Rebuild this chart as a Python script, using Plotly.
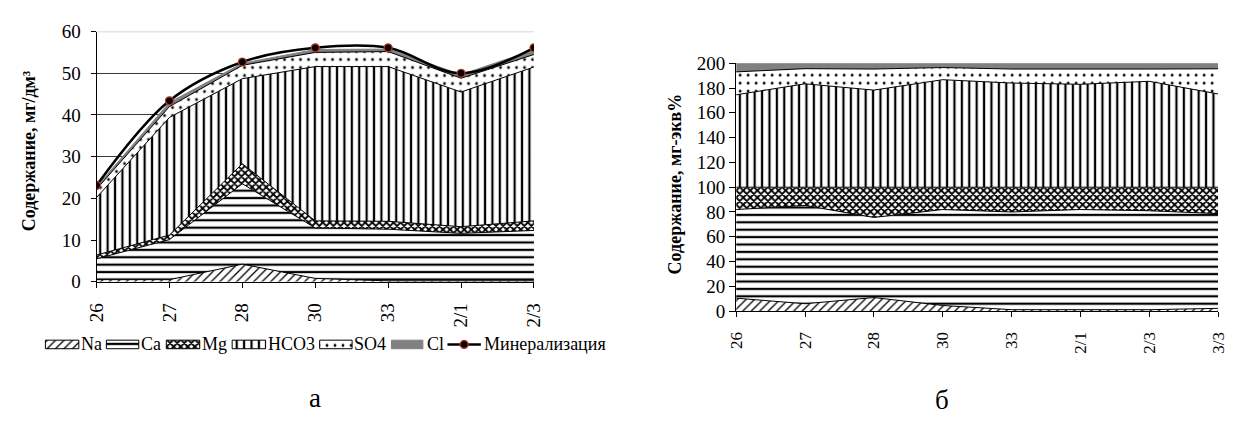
import plotly.graph_objects as go

# --- а: concentration, mg/dm3 -------------------------------------------
samples_a = ["26", "27", "28", "30", "33", "2/1", "2/3"]
na_a   = [0.5, 0.5, 4.2, 0.8, 0.2, 0.2, 0.2]
ca_a   = [5.0, 9.6, 19.3, 12.1, 12.4, 11.4, 12.1]
mg_a   = [0.9, 1.1, 4.8, 1.7, 1.9, 1.6, 2.3]
hco3_a = [13.8, 28.2, 20.4, 37.0, 37.1, 32.3, 36.9]
so4_a  = [2.0, 2.6, 3.2, 3.4, 3.6, 3.3, 3.0]
cl_a   = [0.6, 1.0, 0.5, 0.7, 0.6, 0.9, 1.1]
mineral_a = [23.1, 43.4, 52.7, 56.1, 56.1, 50.0, 56.1]

# --- б: equivalent percent, mg-eq% ---------------------------------------
samples_b = ["26", "27", "28", "30", "33", "2/1", "2/3", "3/3"]
na_b   = [10.5, 6.0, 11.0, 4.6, 1.2, 1.2, 1.2, 2.3]
ca_b   = [71.5, 79.3, 64.6, 77.4, 78.8, 80.8, 79.8, 76.4]
mg_b   = [18.0, 14.7, 24.4, 18.0, 20.0, 18.0, 19.0, 21.3]
hco3_b = [74.5, 83.4, 78.3, 86.7, 84.0, 83.0, 85.4, 75.2]
so4_b  = [18.5, 12.2, 17.0, 9.8, 11.3, 12.1, 9.9, 20.3]
cl_b   = [7.0, 4.4, 4.7, 3.5, 4.7, 4.9, 4.7, 4.5]

ion_names = ["Na", "Ca", "Mg", "HCO3", "SO4", "Cl"]
series_a = [na_a, ca_a, mg_a, hco3_a, so4_a, cl_a]
series_b = [na_b, ca_b, mg_b, hco3_b, so4_b, cl_b]
mineral_name = "Минерализация"

FONT = "Liberation Serif, Times New Roman, serif"
W, H = 1235, 421
CL_GREY = "#808080"
MARKER_EDGE = "#c0392b"

patterns = {
    "Na":   dict(shape="/", size=6, solidity=0.22),
    "Ca":   dict(shape="-", size=7.4, solidity=0.3),
    "Mg":   dict(shape="x", size=5, solidity=0.6),
    "HCO3": dict(shape="|", size=7.4, solidity=0.3),
    "SO4":  dict(shape=".", size=8, solidity=0.1),
}


def px_x(p):
    return p / W


def px_y(p):
    return 1 - p / H


def fill_style(name):
    if name == "Cl":
        return dict(fillcolor=CL_GREY, line=dict(color=CL_GREY, width=1))
    return dict(fillcolor="white", line=dict(color="black", width=1),
                fillpattern=dict(fgcolor="black", bgcolor="white",
                                 fgopacity=1, **patterns[name]))


fig = go.Figure()


def add_stack(xs, series, xa, ya, group):
    for name, vals in zip(ion_names, series):
        fig.add_trace(go.Scatter(x=xs, y=vals, name=name, mode="lines",
                                 stackgroup=group, xaxis=xa, yaxis=ya,
                                 showlegend=False, **fill_style(name)))


add_stack(samples_a, series_a, "x", "y", "a")
add_stack(samples_b, series_b, "x2", "y2", "b")

fig.add_trace(go.Scatter(
    x=samples_a, y=mineral_a, name=mineral_name, mode="lines+markers",
    xaxis="x", yaxis="y", showlegend=False,
    line=dict(color="black", width=2.5, shape="spline", smoothing=1),
    marker=dict(color="black", size=8, line=dict(color=MARKER_EDGE, width=1.2)),
))

# --- legend of chart а, drawn on a pixel-scaled helper axis ---------------
LEG_Y = 352          # legend row centre (px from top)
SW_H = 9             # swatch height
sw_left = [35, 97, 158, 225, 314, 387]
sw_right = [69, 130, 192, 259, 347, 419]
txt_left = [69, 130, 192, 259, 347, 421]
for name, x0, x1, tx in zip(ion_names, sw_left, sw_right, txt_left):
    y0, y1 = LEG_Y - SW_H / 2, LEG_Y + SW_H / 2
    st = fill_style(name)
    if name != "Cl":
        st["line"] = dict(color="black", width=1)
    fig.add_trace(go.Scatter(x=[x0, x1, x1, x0, x0], y=[y0, y0, y1, y1, y0],
                             mode="lines", fill="toself", xaxis="x3", yaxis="y3",
                             showlegend=False, hoverinfo="skip", **st))
    fig.add_annotation(text=name, xref="x3", yref="y3", x=tx, y=LEG_Y,
                       xanchor="left", yanchor="middle", showarrow=False,
                       font=dict(size=18, family=FONT))
fig.add_trace(go.Scatter(x=[444, 478], y=[LEG_Y, LEG_Y], mode="lines",
                         xaxis="x3", yaxis="y3", showlegend=False,
                         hoverinfo="skip", line=dict(color="black", width=2.5)))
fig.add_trace(go.Scatter(x=[461], y=[LEG_Y], mode="markers", xaxis="x3",
                         yaxis="y3", showlegend=False, hoverinfo="skip",
                         marker=dict(color="black", size=8,
                                     line=dict(color=MARKER_EDGE, width=1.2))))
fig.add_annotation(text=mineral_name, xref="x3", yref="y3", x=479, y=LEG_Y,
                   xanchor="left", yanchor="middle", showarrow=False,
                   font=dict(size=18, family=FONT))

axis_common = dict(showline=True, linecolor="black", linewidth=1,
                   ticks="outside", tickcolor="black", zeroline=False)

fig.update_layout(
    width=W, height=H, margin=dict(l=0, r=0, t=0, b=0),
    paper_bgcolor="white", plot_bgcolor="rgba(0,0,0,0)",
    font=dict(family=FONT, color="black"),
    showlegend=False,
    xaxis=dict(type="category", domain=[px_x(87), px_x(532)],
               range=[0, len(samples_a) - 1], tickangle=-90,
               tickfont=dict(size=19, family=FONT), showgrid=False,
               anchor="y", ticklen=5, ticklabelstandoff=8, **axis_common),
    yaxis=dict(domain=[px_y(286), px_y(22.7)], range=[0, 60], dtick=10,
               tickfont=dict(size=19, family=FONT), showgrid=True,
               gridcolor="#3a3a3a", gridwidth=1, anchor="x", ticklen=5,
               ticklabelstandoff=6, **axis_common),
    xaxis2=dict(type="category", domain=[px_x(737.7), px_x(1228)],
                range=[0, len(samples_b) - 1], tickangle=-90,
                tickfont=dict(size=17, family=FONT), showgrid=False,
                anchor="y2", ticklen=5, ticklabelstandoff=8, **axis_common),
    yaxis2=dict(domain=[px_y(317), px_y(56)], range=[0, 200], dtick=20,
                tickfont=dict(size=19, family=FONT), showgrid=False,
                anchor="x2", ticklen=6, ticklabelstandoff=0, **axis_common),
    xaxis3=dict(domain=[0, px_x(620)], range=[0, 620], visible=False,
                fixedrange=True, anchor="y3"),
    yaxis3=dict(domain=[px_y(372), px_y(332)], range=[372, 332],
                visible=False, fixedrange=True, anchor="x3"),
)

fig.add_shape(type="line", xref="x domain", x0=0, x1=1, yref="y", y0=60, y1=60,
              line=dict(color="#c8c8c8", width=1.5), layer="above")

centered = dict(xref="paper", yref="paper", showarrow=False,
                xanchor="center", yanchor="middle")
fig.add_annotation(text="<b>Содержание, мг/дм³</b>", textangle=-90,
                   x=px_x(18), y=px_y(148),
                   font=dict(size=18, family=FONT), **centered)
fig.add_annotation(text="<b>Содержание, мг-экв%</b>", textangle=-90,
                   x=px_x(675), y=px_y(183),
                   font=dict(size=18, family=FONT), **centered)
fig.add_annotation(text="а", x=px_x(309), y=px_y(408),
                   font=dict(size=27, family=FONT), **centered)
fig.add_annotation(text="б", x=px_x(947), y=px_y(410),
                   font=dict(size=27, family=FONT), **centered)

fig.write_html("out.html")
